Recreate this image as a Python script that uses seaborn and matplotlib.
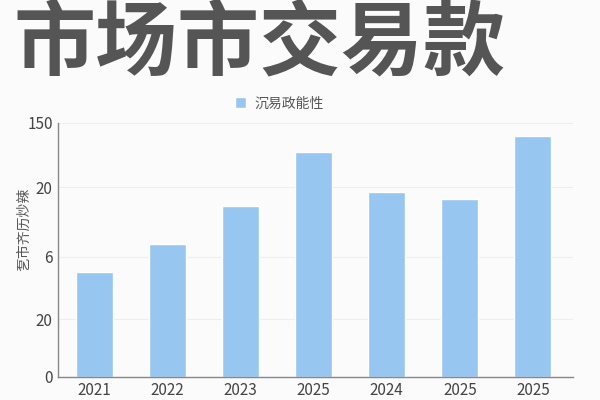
import numpy as np
import pandas as pd
import matplotlib
matplotlib.use("Agg")
import matplotlib.pyplot as plt
import seaborn as sns

years = ["2021", "2022", "2023", "2025", "2024", "2025", "2025"]
values = [62, 78.5, 101, 133, 109, 105, 142]
tick_pos = [0, 34, 71, 112, 150]
tick_labels = ["0", "20", "6", "20", "150"]
title = "市场市交易款"
legend_label = "沉易政能性"
ylabel = "乭市齐历炒辣"

sns.set_style("white")
plt.rcParams['font.family'] = ['Noto Sans CJK SC', 'DejaVu Sans']

df = pd.DataFrame({"pos": np.arange(len(years)), "value": values})

fig = plt.figure(figsize=(6, 4), dpi=100, facecolor="#fbfbfb")
ax = fig.add_axes([0.097, 0.058, 0.858, 0.635])
ax.set_facecolor("#fbfbfb")

sns.barplot(data=df, x="pos", y="value", color="#97c7f0", saturation=1,
            width=0.51, ax=ax, label=legend_label)

ax.set_ylim(0, 150)
ax.set_xlim(-0.5, 6.55)
ax.set_yticks(tick_pos)
ax.set_yticklabels(tick_labels, fontsize=11, color="#444444")
ax.set_xticks(np.arange(len(years)))
ax.set_xticklabels(years, fontsize=11, color="#444444")
ax.tick_params(length=0, pad=4)
ax.set_xlabel("")
ax.set_ylabel(ylabel, fontsize=10, color="#555555")
ax.yaxis.set_label_coords(-0.052, 0.58)
ax.yaxis.grid(True, color="#eeeeee", linewidth=0.8)
ax.set_axisbelow(True)

sns.despine(ax=ax)
for s in ["left", "bottom"]:
    ax.spines[s].set_color("#888888")
    ax.spines[s].set_linewidth(1.0)

leg = ax.legend(loc="lower center", bbox_to_anchor=(0.43, 1.0), frameon=False,
                fontsize=10, handlelength=0.8, handleheight=0.8, handletextpad=0.6)
for t in leg.get_texts():
    t.set_color("#555555")

fig.text(0.022, 0.99, title, fontsize=59, fontweight="bold", color="#555555",
         ha="left", va="top")

fig.savefig("out.png", dpi=100, facecolor=fig.get_facecolor())
